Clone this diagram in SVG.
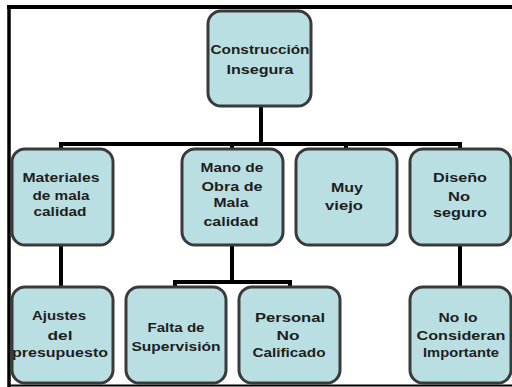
<svg xmlns="http://www.w3.org/2000/svg" width="512" height="387" viewBox="0 0 512 387">
  <style>
    .box { fill: #badfe3; stroke: #3a3a3a; stroke-width: 3; }
    .lbl { font-family: "Liberation Sans", Arial, sans-serif; font-size: 12px; font-weight: bold; fill: #1e1e1e; text-anchor: middle; }
    .wire { stroke: #000; stroke-width: 4; fill: none; stroke-linecap: butt; }
  </style>
  <rect x="0" y="0" width="512" height="387" fill="#fff"/>

  <!-- outer frame -->
  <g id="frame" stroke="#000" fill="none">
    <line x1="7" y1="7" x2="512" y2="7" stroke-width="4"/>
    <line x1="9" y1="5" x2="9" y2="387" stroke-width="3.5"/>
    <line x1="9" y1="385.5" x2="512" y2="385.5" stroke-width="2"/>
  </g>

  <!-- connectors -->
  <g id="connectors" class="wire">
    <line x1="261" y1="106" x2="261" y2="144"/>
    <line x1="59" y1="144" x2="462" y2="144"/>
    <line x1="61" y1="142" x2="61" y2="149"/>
    <line x1="232" y1="142" x2="232" y2="149"/>
    <line x1="346" y1="142" x2="346" y2="149"/>
    <line x1="460" y1="142" x2="460" y2="149"/>
    <line x1="61" y1="246" x2="61" y2="287"/>
    <line x1="232" y1="246" x2="232" y2="282"/>
    <line x1="173" y1="282" x2="292" y2="282"/>
    <line x1="175" y1="280" x2="175" y2="287"/>
    <line x1="290" y1="280" x2="290" y2="287"/>
    <line x1="460" y1="246" x2="460" y2="287"/>
  </g>

  <g id="n-root">
    <rect class="box" x="208" y="11" width="103" height="95" rx="13"/>
    <text class="lbl" x="260" y="54" textLength="99" lengthAdjust="spacingAndGlyphs">Construcción</text>
    <text class="lbl" x="260" y="74" textLength="67" lengthAdjust="spacingAndGlyphs">Insegura</text>
  </g>

  <g id="n-materiales">
    <rect class="box" x="12" y="149" width="101" height="96" rx="13"/>
    <text class="lbl" x="61" y="182" textLength="77" lengthAdjust="spacingAndGlyphs">Materiales</text>
    <text class="lbl" x="61" y="200" textLength="57" lengthAdjust="spacingAndGlyphs">de mala</text>
    <text class="lbl" x="60" y="216" textLength="53" lengthAdjust="spacingAndGlyphs">calidad</text>
  </g>

  <g id="n-mano-obra">
    <rect class="box" x="182" y="149" width="101" height="96" rx="13"/>
    <text class="lbl" x="232" y="172" textLength="63" lengthAdjust="spacingAndGlyphs">Mano de</text>
    <text class="lbl" x="232" y="191" textLength="61" lengthAdjust="spacingAndGlyphs">Obra de</text>
    <text class="lbl" x="231" y="207" textLength="35" lengthAdjust="spacingAndGlyphs">Mala</text>
    <text class="lbl" x="231" y="226" textLength="55" lengthAdjust="spacingAndGlyphs">calidad</text>
  </g>

  <g id="n-muy-viejo">
    <rect class="box" x="296" y="149" width="101" height="96" rx="13"/>
    <text class="lbl" x="347" y="192" textLength="32" lengthAdjust="spacingAndGlyphs">Muy</text>
    <text class="lbl" x="344" y="210" textLength="38" lengthAdjust="spacingAndGlyphs">viejo</text>
  </g>

  <g id="n-diseno">
    <rect class="box" x="410" y="149" width="101" height="96" rx="13"/>
    <text class="lbl" x="460" y="182" textLength="54" lengthAdjust="spacingAndGlyphs">Diseño</text>
    <text class="lbl" x="459" y="201" textLength="22" lengthAdjust="spacingAndGlyphs">No</text>
    <text class="lbl" x="460" y="217" textLength="54" lengthAdjust="spacingAndGlyphs">seguro</text>
  </g>

  <g id="n-ajustes">
    <rect class="box" x="12" y="287" width="101" height="96" rx="13"/>
    <text class="lbl" x="59" y="320" textLength="54" lengthAdjust="spacingAndGlyphs">Ajustes</text>
    <text class="lbl" x="60" y="340" textLength="25" lengthAdjust="spacingAndGlyphs">del</text>
    <text class="lbl" x="60" y="357" textLength="96" lengthAdjust="spacingAndGlyphs">presupuesto</text>
  </g>

  <g id="n-supervision">
    <rect class="box" x="126" y="287" width="100" height="96" rx="13"/>
    <text class="lbl" x="176" y="332" textLength="57" lengthAdjust="spacingAndGlyphs">Falta de</text>
    <text class="lbl" x="176" y="351" textLength="89" lengthAdjust="spacingAndGlyphs">Supervisión</text>
  </g>

  <g id="n-personal">
    <rect class="box" x="239" y="287" width="101" height="96" rx="13"/>
    <text class="lbl" x="290" y="322" textLength="70" lengthAdjust="spacingAndGlyphs">Personal</text>
    <text class="lbl" x="288" y="340" textLength="23" lengthAdjust="spacingAndGlyphs">No</text>
    <text class="lbl" x="289" y="357" textLength="73" lengthAdjust="spacingAndGlyphs">Calificado</text>
  </g>

  <g id="n-no-importante">
    <rect class="box" x="410" y="287" width="101" height="96" rx="13"/>
    <text class="lbl" x="458" y="322" textLength="39" lengthAdjust="spacingAndGlyphs">No lo</text>
    <text class="lbl" x="461" y="340" textLength="89" lengthAdjust="spacingAndGlyphs">Consideran</text>
    <text class="lbl" x="461" y="357" textLength="76" lengthAdjust="spacingAndGlyphs">Importante</text>
  </g>
</svg>
